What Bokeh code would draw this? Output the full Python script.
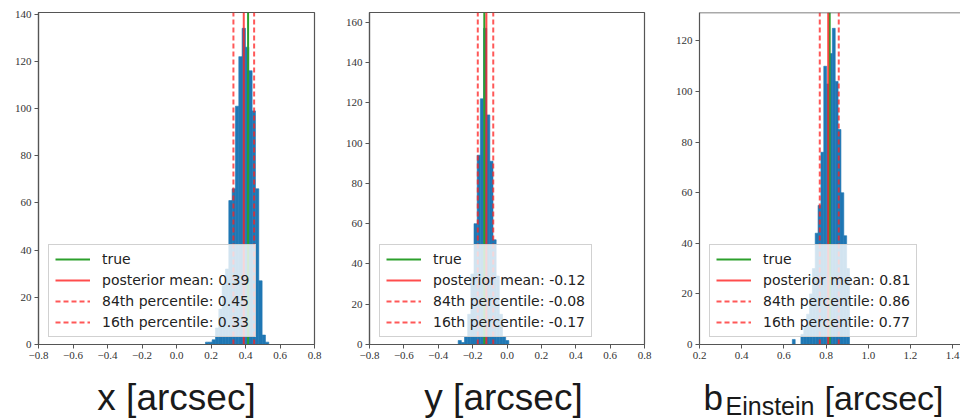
import numpy as np
from bokeh.plotting import figure
from bokeh.layouts import column, row
from bokeh.models import FixedTicker, CustomJSTickFormatter, Span, Legend, LegendItem
from bokeh.core.properties import value
from bokeh.embed import file_html
from bokeh.resources import INLINE

# ---- posterior samples: lens centre x [arcsec] ----
x_hist_range = (0.168, 0.535)
x_counts = [1, 1, 2, 7, 15, 25, 32, 61, 66, 101, 122, 134, 126, 116, 99, 66, 27, 4, 1]
x_true = 0.415
x_mean = 0.39
x_p84 = 0.45
x_p16 = 0.33

# ---- posterior samples: lens centre y [arcsec] ----
y_hist_range = (-0.284, 0.0106)
y_counts = [2, 1, 4, 15, 35, 60, 94, 122, 157, 114, 91, 52, 34, 15, 4, 2]
y_true = -0.132
y_mean = -0.12
y_p84 = -0.08
y_p16 = -0.17

# ---- posterior samples: Einstein radius [arcsec] ----
b_hist_range = (0.640, 0.911)
b_counts = [2, 0, 0, 4, 7, 12, 20, 30, 44, 55, 76, 110, 103, 115, 125, 104, 85, 60, 43, 30]
b_true = 0.817
b_mean = 0.81
b_p84 = 0.86
b_p16 = 0.77

# ---- axes ----
xy_view = (-0.8, 0.8)
b_view = (0.2, 1.437)
xy_ticks = [-0.8, -0.6, -0.4, -0.2, 0.0, 0.2, 0.4, 0.6, 0.8]
b_ticks = [0.2, 0.4, 0.6, 0.8, 1.0, 1.2, 1.4]
x_count_ticks = [0, 20, 40, 60, 80, 100, 120, 140]
y_count_ticks = [0, 20, 40, 60, 80, 100, 120, 140, 160]
b_count_ticks = [0, 20, 40, 60, 80, 100, 120]

BAR = "#1f77b4"
GREEN = "#2ca02c"
RED = "#ff2020"
SPINE = "#555555"
PANEL_H = 372
TICK_FONT = "Liberation Serif"
LEGEND_FONT = "DejaVu Sans"


def panel(counts, hist_range, true, mean, p84, p16, view, xticks, yticks,
          width, border_left, border_right, closed_right=True):
    edges = np.linspace(hist_range[0], hist_range[1], len(counts) + 1)
    ymax = 1.05 * max(counts)
    p = figure(width=width, height=PANEL_H, x_range=view, y_range=(0, ymax),
               output_backend="svg", toolbar_location=None, title_location=None,
               min_border_left=border_left, min_border_right=border_right,
               min_border_top=12, min_border_bottom=PANEL_H - 344,
               background_fill_color="white", border_fill_color="white")
    p.xgrid.visible = False
    p.ygrid.visible = False

    p.quad(left=edges[:-1], right=edges[1:], bottom=0, top=counts,
           fill_color=BAR, line_color=BAR, line_width=0.6)

    r_true = p.segment(x0=[true], y0=[0], x1=[true], y1=[ymax],
                       line_color=GREEN, line_width=2)
    r_mean = p.segment(x0=[mean], y0=[0], x1=[mean], y1=[ymax],
                       line_color=RED, line_alpha=0.8, line_width=2)
    r_p84 = p.segment(x0=[p84], y0=[0], x1=[p84], y1=[ymax],
                      line_color=RED, line_alpha=0.75, line_width=2,
                      line_dash="5 3")
    r_p16 = p.segment(x0=[p16], y0=[0], x1=[p16], y1=[ymax],
                      line_color=RED, line_alpha=0.75, line_width=2,
                      line_dash="5 3")

    legend = Legend(items=[
        LegendItem(label="true", renderers=[r_true]),
        LegendItem(label=f"posterior mean: {mean:.2f}", renderers=[r_mean]),
        LegendItem(label=f"84th percentile: {p84:.2f}", renderers=[r_p84]),
        LegendItem(label=f"16th percentile: {p16:.2f}", renderers=[r_p16]),
    ], location=(10, 7))
    legend.label_text_font = LEGEND_FONT
    legend.label_text_font_size = "14px"
    legend.label_text_color = "#222222"
    legend.glyph_width = 35
    legend.glyph_height = 16
    legend.label_height = 16
    legend.label_standoff = 12
    legend.spacing = 5
    legend.padding = 6
    legend.background_fill_color = "white"
    legend.background_fill_alpha = 0.8
    legend.border_line_color = "#cccccc"
    legend.border_line_alpha = 0.9
    p.add_layout(legend)

    for ax in (p.xaxis[0], p.yaxis[0]):
        ax.major_tick_out = 4
        ax.major_tick_in = 0
        ax.minor_tick_line_color = None
        ax.major_tick_line_color = SPINE
        ax.major_label_text_font = TICK_FONT
        ax.major_label_text_font_size = "11px"
        ax.major_label_text_color = "#333333"
        ax.major_label_standoff = 3
        ax.axis_line_color = SPINE
        ax.axis_line_width = 1.2

    p.xaxis.ticker = FixedTicker(ticks=xticks)
    p.xaxis.formatter = CustomJSTickFormatter(
        code="return tick.toFixed(1).replace('-', '\u2212');")
    p.yaxis.ticker = FixedTicker(ticks=yticks)

    if closed_right:
        p.outline_line_color = SPINE
        p.outline_line_width = 1.2
    else:
        p.outline_line_color = None
        p.add_layout(Span(location=ymax, dimension="width",
                          line_color=SPINE, line_width=1.5))
    return p


p1 = panel(x_counts, x_hist_range, x_true, x_mean, x_p84, x_p16,
           xy_view, xy_ticks, x_count_ticks, 330, 38, 16)
p2 = panel(y_counts, y_hist_range, y_true, y_mean, y_p84, y_p16,
           xy_view, xy_ticks, y_count_ticks, 330, 39, 16)
p3 = panel(b_counts, b_hist_range, b_true, b_mean, b_p84, b_p16,
           b_view, b_ticks, b_count_ticks, 300, 39, 0, closed_right=False)

# ---- parameter names beneath the panels ----
LAB_H = 419 - PANEL_H
lab = figure(width=960, height=LAB_H, x_range=(0, 960), y_range=(0, LAB_H),
             output_backend="svg", toolbar_location=None, title_location=None,
             x_axis_type=None, y_axis_type=None, min_border=0,
             outline_line_color=None)
lab.xgrid.visible = False
lab.ygrid.visible = False
SANS = value("Liberation Sans")
INK = "#1a1a1a"
mid = 22
lab.text(x=[176, 503], y=[mid, mid], text=["x [arcsec]", "y [arcsec]"],
         text_font=SANS, text_font_size="37px", text_color=INK,
         text_align="center", text_baseline="middle")
lab.text(x=[703], y=[mid], text=["b"], text_font=SANS, text_font_size="35px",
         text_color=INK, text_align="left", text_baseline="middle")
lab.text(x=[725], y=[mid - 8], text=["Einstein"], text_font=SANS,
         text_font_size="25px", text_color=INK, text_align="left",
         text_baseline="middle")
lab.text(x=[824], y=[mid], text=["[arcsec]"], text_font=SANS,
         text_font_size="34px", text_color=INK, text_align="left",
         text_baseline="middle")

layout = column(row(p1, p2, p3), lab)
open("out.html", "w").write(file_html(layout, INLINE))
